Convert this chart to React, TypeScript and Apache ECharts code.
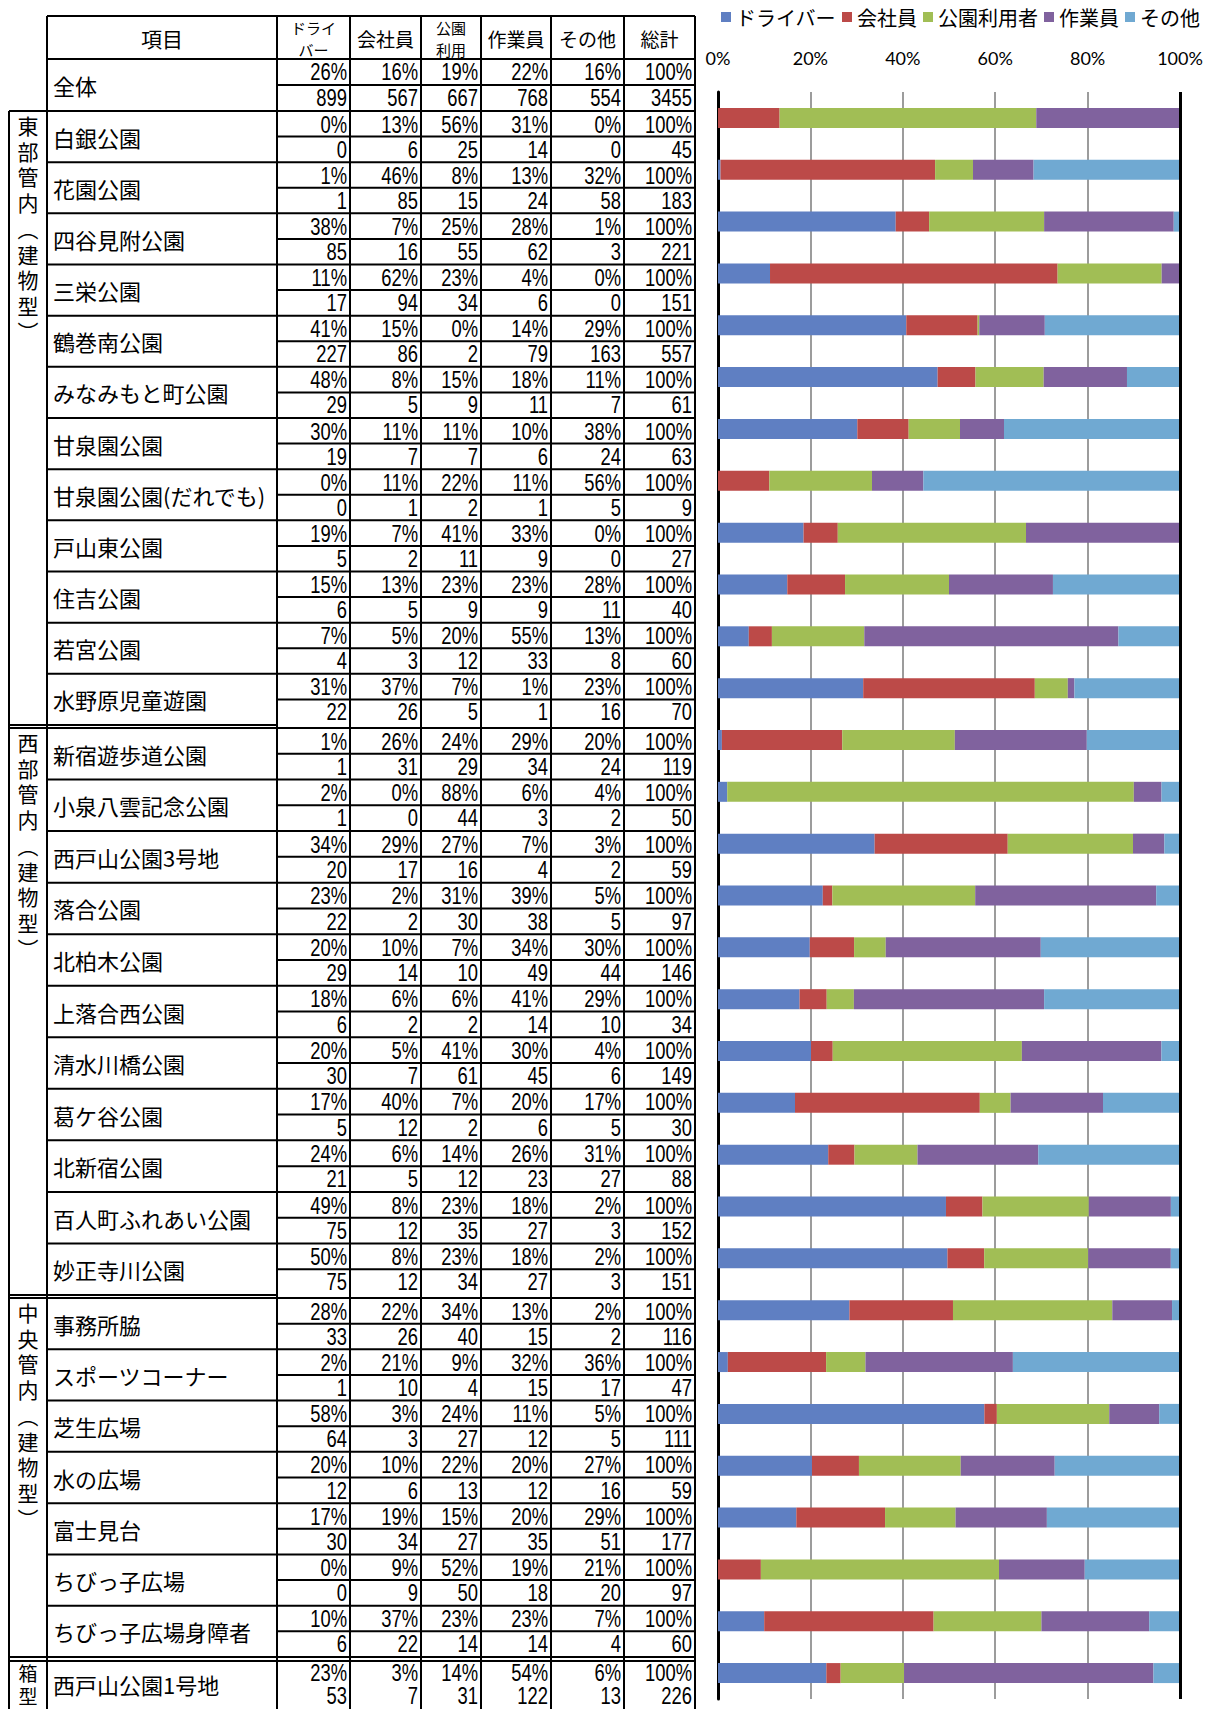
import React, { useEffect, useRef } from "react";
import * as echarts from "echarts";

// ---------- data ----------
const seriesNames = ["ドライバー", "会社員", "公園利用者", "作業員", "その他"];
const seriesColors = ["#5F7FC2", "#BC4A48", "#A1BE55", "#80629E", "#70A9D2"];
const headerLabels = ["ドライ\nバー", "会社員", "公園\n利用", "作業員", "その他", "総計"];
const headerTitle = "項目";
const overallName = "全体";
const overallPct = [26, 16, 19, 22, 16, 100];
const overallCounts = [899, 567, 667, 768, 554, 3455];

const groupLabels = [
  ["東", "部", "管", "内", "︵", "建", "物", "型", "︶"],
  ["西", "部", "管", "内", "︵", "建", "物", "型", "︶"],
  ["中", "央", "管", "内", "︵", "建", "物", "型", "︶"],
  ["箱", "型"],
];
const groupSizes = [12, 11, 7, 1];

const parkNames = [
  "白銀公園", "花園公園", "四谷見附公園", "三栄公園", "鶴巻南公園", "みなみもと町公園",
  "甘泉園公園", "甘泉園公園(だれでも)", "戸山東公園", "住吉公園", "若宮公園", "水野原児童遊園",
  "新宿遊歩道公園", "小泉八雲記念公園", "西戸山公園3号地", "落合公園", "北柏木公園", "上落合西公園",
  "清水川橋公園", "葛ケ谷公園", "北新宿公園", "百人町ふれあい公園", "妙正寺川公園",
  "事務所脇", "スポーツコーナー", "芝生広場", "水の広場", "富士見台", "ちびっ子広場", "ちびっ子広場身障者",
  "西戸山公園1号地",
];

const driverPct = [0, 1, 38, 11, 41, 48, 30, 0, 19, 15, 7, 31, 1, 2, 34, 23, 20, 18, 20, 17, 24, 49, 50, 28, 2, 58, 20, 17, 0, 10, 23];
const companyPct = [13, 46, 7, 62, 15, 8, 11, 11, 7, 13, 5, 37, 26, 0, 29, 2, 10, 6, 5, 40, 6, 8, 8, 22, 21, 3, 10, 19, 9, 37, 3];
const parkUserPct = [56, 8, 25, 23, 0, 15, 11, 22, 41, 23, 20, 7, 24, 88, 27, 31, 7, 6, 41, 7, 14, 23, 23, 34, 9, 24, 22, 15, 52, 23, 14];
const workerPct = [31, 13, 28, 4, 14, 18, 10, 11, 33, 23, 55, 1, 29, 6, 7, 39, 34, 41, 30, 20, 26, 18, 18, 13, 32, 11, 20, 20, 19, 23, 54];
const otherPct = [0, 32, 1, 0, 29, 11, 38, 56, 0, 28, 13, 23, 20, 4, 3, 5, 30, 29, 4, 17, 31, 2, 2, 2, 36, 5, 27, 29, 21, 7, 6];
const totalPct = parkNames.map(() => 100);

const driverCounts = [0, 1, 85, 17, 227, 29, 19, 0, 5, 6, 4, 22, 1, 1, 20, 22, 29, 6, 30, 5, 21, 75, 75, 33, 1, 64, 12, 30, 0, 6, 53];
const companyCounts = [6, 85, 16, 94, 86, 5, 7, 1, 2, 5, 3, 26, 31, 0, 17, 2, 14, 2, 7, 12, 5, 12, 12, 26, 10, 3, 6, 34, 9, 22, 7];
const parkUserCounts = [25, 15, 55, 34, 2, 9, 7, 2, 11, 9, 12, 5, 29, 44, 16, 30, 10, 2, 61, 2, 12, 35, 34, 40, 4, 27, 13, 27, 50, 14, 31];
const workerCounts = [14, 24, 62, 6, 79, 11, 6, 1, 9, 9, 33, 1, 34, 3, 4, 38, 49, 14, 45, 6, 23, 27, 27, 15, 15, 12, 12, 35, 18, 14, 122];
const otherCounts = [0, 58, 3, 0, 163, 7, 24, 5, 0, 11, 8, 16, 24, 2, 2, 5, 44, 10, 6, 5, 27, 3, 3, 2, 17, 5, 16, 51, 20, 4, 13];
const totalCounts = [45, 183, 221, 151, 557, 61, 63, 9, 27, 40, 60, 70, 119, 50, 59, 97, 146, 34, 149, 30, 88, 152, 151, 116, 47, 111, 59, 177, 97, 60, 226];

const xTicks = { min: 0, max: 100, interval: 20 };

// ---------- layout ----------
const JP = '"Noto Sans CJK JP", "Noto Sans CJK SC", sans-serif';
const NUM = '"Liberation Sans", Arial, sans-serif';
const CAT_L = 9;
const NAME_L = 47;
const COL_X = [277, 350, 421, 481, 551, 624, 695];
const TABLE_TOP = 16;
const HEAD_B = 59;
const ALL_B = 111;
const GROUP_BOUNDS = [
  [111, 725],
  [728, 1295],
  [1298, 1657],
  [1661, 1707],
];

function buildTable() {
  const els: any[] = [];
  const line = (x1: number, y1: number, x2: number, y2: number, w = 2) =>
    els.push({ type: "line", silent: true, z: 10, shape: { x1, y1, x2, y2 }, style: { stroke: "#000", lineWidth: w } });
  const text = (x: number, y: number, str: string, o: any = {}) =>
    els.push({
      type: "text",
      silent: true,
      z: 11,
      x,
      y,
      scaleX: o.scaleX ?? 1,
      style: {
        text: str,
        fontSize: o.size ?? 20,
        fontFamily: o.family ?? JP,
        fill: "#000",
        align: o.align ?? "left",
        verticalAlign: "middle",
        lineHeight: o.lineHeight,
      },
    });

  const right = COL_X[COL_X.length - 1];
  const bottom = 1713;
  // header
  line(NAME_L, TABLE_TOP, right, TABLE_TOP);
  line(NAME_L, HEAD_B, right, HEAD_B);
  line(NAME_L, TABLE_TOP, NAME_L, bottom);
  COL_X.forEach((x) => line(x, TABLE_TOP, x, bottom));
  line(CAT_L, ALL_B, CAT_L, bottom);
  text((NAME_L + COL_X[0]) / 2, (TABLE_TOP + HEAD_B) / 2, headerTitle, { size: 21, align: "center" });
  headerLabels.forEach((h, c) => {
    const two = h.includes("\n");
    text((COL_X[c] + COL_X[c + 1]) / 2, (TABLE_TOP + HEAD_B) / 2 + 1, h, {
      size: two ? 15 : 19,
      align: "center",
      lineHeight: 22,
    });
  });

  const numCell = (c: number, y: number, s: string) =>
    text(COL_X[c + 1] - 3, y, s, { size: 23, family: NUM, align: "right", scaleX: 0.8, lineHeight: 22 });

  // overall row
  const allMid = (HEAD_B + ALL_B) / 2;
  line(COL_X[0], allMid, right, allMid);
  text(NAME_L + 6, allMid, overallName, { size: 22 });
  overallPct.forEach((v, c) => numCell(c, (HEAD_B + allMid) / 2, v + "%"));
  overallCounts.forEach((v, c) => numCell(c, (allMid + ALL_B) / 2, String(v)));

  const pctCols = [driverPct, companyPct, parkUserPct, workerPct, otherPct, totalPct];
  const cntCols = [driverCounts, companyCounts, parkUserCounts, workerCounts, otherCounts, totalCounts];

  let idx = 0;
  GROUP_BOUNDS.forEach(([t, b], g) => {
    const n = groupSizes[g];
    const h = (b - t) / n;
    const last = g === GROUP_BOUNDS.length - 1;
    line(CAT_L, t, right, t);
    if (!last) line(CAT_L, b, g === 2 ? right : COL_X[0], b);
    const step = last ? 23 : 25.7;
    groupLabels[g].forEach((ch, k) =>
      text((CAT_L + NAME_L) / 2, t + (last ? 11 : 14) + k * step, ch, {
        size: last ? 19 : 21,
        align: "center",
        lineHeight: last ? 22 : 24,
      })
    );
    for (let i = 0; i < n; i++) {
      const top = t + i * h;
      if (i > 0) line(NAME_L, top, right, top);
      const mid = top + h / 2;
      if (!last) line(COL_X[0], mid, right, mid);
      text(NAME_L + 6, mid, parkNames[idx], { size: 22 });
      pctCols.forEach((col, c) => numCell(c, top + h / 4 + 0.5, col[idx] + "%"));
      cntCols.forEach((col, c) => numCell(c, top + (3 * h) / 4, String(col[idx])));
      idx++;
    }
  });
  return els;
}

export default function App() {
  const ref = useRef<HTMLDivElement>(null);
  useEffect(() => {
    if (!ref.current) return;
    const chart = echarts.init(ref.current, undefined, { renderer: "svg" });
    const countCols = [driverCounts, companyCounts, parkUserCounts, workerCounts, otherCounts];
    const series = seriesNames.map((name, k) => ({
      type: "bar",
      name,
      stack: "total",
      barWidth: 20,
      itemStyle: { color: seriesColors[k] },
      data: countCols[k].map((v, i) => (v / totalCounts[i]) * 100),
      ...(k === seriesNames.length - 1
        ? {
            markLine: {
              silent: true,
              symbol: ["none", "none"],
              label: { show: false },
              lineStyle: { color: "#000", width: 3, type: "solid" },
              data: [{ xAxis: xTicks.max }],
            },
          }
        : {}),
    }));
    chart.setOption({
      animation: false,
      backgroundColor: "#fff",
      legend: {
        data: seriesNames,
        top: 2,
        left: 716,
        icon: "rect",
        itemWidth: 10,
        itemHeight: 10,
        itemGap: 6,
        textStyle: { fontSize: 20, fontFamily: JP, color: "#000" },
      },
      grid: { left: 718, right: 33, top: 92, bottom: 10 },
      xAxis: {
        type: "value",
        position: "top",
        min: xTicks.min,
        max: xTicks.max,
        interval: xTicks.interval,
        axisLine: { show: false },
        axisTick: { show: false },
        axisLabel: { formatter: "{value}%", fontSize: 18, fontFamily: "Lato", color: "#000", margin: 25 },
        splitLine: { show: true, lineStyle: { color: "#9c9c9c", width: 2 } },
      },
      yAxis: {
        type: "category",
        data: parkNames,
        inverse: true,
        axisLine: { show: true, lineStyle: { color: "#000", width: 3 } },
        axisTick: { show: false },
        axisLabel: { show: false },
        splitLine: { show: false },
      },
      series,
      graphic: { elements: buildTable() },
    });
    return () => chart.dispose();
  }, []);
  return (
    <div
      ref={ref}
      style={{ position: "absolute", left: 0, top: 0, width: 1213, height: 1709 }}
    />
  );
}
